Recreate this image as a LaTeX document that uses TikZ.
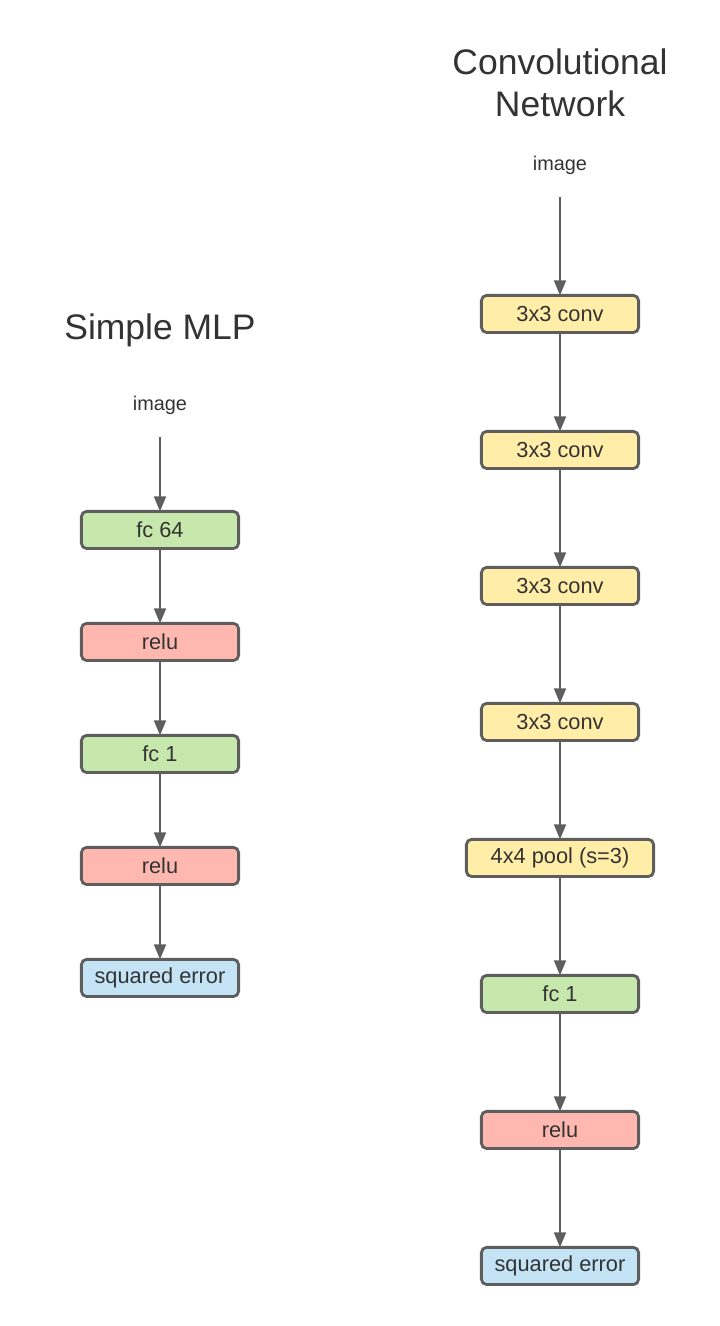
\documentclass[tikz,border=0pt]{standalone}
\usepackage{fontspec}
\setmainfont{Liberation Sans}
\usepackage{xcolor}
\usetikzlibrary{positioning, arrows.meta}
\definecolor{fcgreen}{HTML}{C7E8AC}
\definecolor{relured}{HTML}{FFB8B0}
\definecolor{convyellow}{HTML}{FFEDA8}
\definecolor{lossblue}{HTML}{C4E4F6}
\definecolor{edgegray}{HTML}{5E5E5E}
\definecolor{txtgray}{HTML}{333333}

\begin{document}
\begin{tikzpicture}[
  node distance=1.496cm,
  every node/.style={
    align=center,
    text=txtgray
  },
  layer/.style={
    draw=edgegray,
    line width=1.6pt,
    outer sep=0pt,
    rounded corners=3pt,
    minimum width=3.144cm,
    minimum height=0.744cm,
    font=\fontsize{12.4}{15}\selectfont
  },
  fc/.style={layer, fill=fcgreen},
  relu/.style={layer, fill=relured},
  conv/.style={layer, fill=convyellow},
  loss/.style={layer, fill=lossblue},
  input/.style={font=\fontsize{11.3}{13}\selectfont, minimum height=1.28cm},
  title/.style={font=\fontsize{20.2}{23.8}\selectfont},
  flow/.style={draw=edgegray, line width=1.1pt, -{Triangle[length=3mm,width=2.4mm]}}
]
\useasboundingbox (0,0) rectangle (14.4,-26.52);

% Simple MLP
\node[title] (mlptitle) at (3.2,-6.6) {Simple MLP};
\node[input] (mlpimg) at (3.2,-8.1) {image};
\node[fc] (fc64) [below=1.48cm of mlpimg] {fc 64};
\node[relu] (relu1) [below=of fc64] {relu};
\node[fc] (fc1) [below=of relu1] {fc 1};
\node[relu] (relu2) [below=of fc1] {relu};
\node[loss] (mlploss) [below=of relu2] {squared error};

\draw[flow] (mlpimg) -- (fc64);
\draw[flow] (fc64) -- (relu1);
\draw[flow] (relu1) -- (fc1);
\draw[flow] (fc1) -- (relu2);
\draw[flow] (relu2) -- (mlploss);

% Convolutional Network
\node[title] (cnntitle) at (11.2,-1.66) {Convolutional\\Network};
\node[input] (cnnimg) at (11.2,-3.3) {image};
\node[conv] (conv1) [below=1.96cm of cnnimg] {3x3 conv};
\node[conv] (conv2) [below=1.976cm of conv1] {3x3 conv};
\node[conv] (conv3) [below=1.976cm of conv2] {3x3 conv};
\node[conv] (conv4) [below=1.976cm of conv3] {3x3 conv};
\node[conv, minimum width=3.744cm] (pool) [below=1.976cm of conv4] {4x4 pool (s=3)};
\node[fc] (cnnfc) [below=1.976cm of pool] {fc 1};
\node[relu] (cnnrelu) [below=1.976cm of cnnfc] {relu};
\node[loss] (cnnloss) [below=1.976cm of cnnrelu] {squared error};

\draw[flow] (cnnimg) -- (conv1);
\draw[flow] (conv1) -- (conv2);
\draw[flow] (conv2) -- (conv3);
\draw[flow] (conv3) -- (conv4);
\draw[flow] (conv4) -- (pool);
\draw[flow] (pool) -- (cnnfc);
\draw[flow] (cnnfc) -- (cnnrelu);
\draw[flow] (cnnrelu) -- (cnnloss);

\end{tikzpicture}
\end{document}
